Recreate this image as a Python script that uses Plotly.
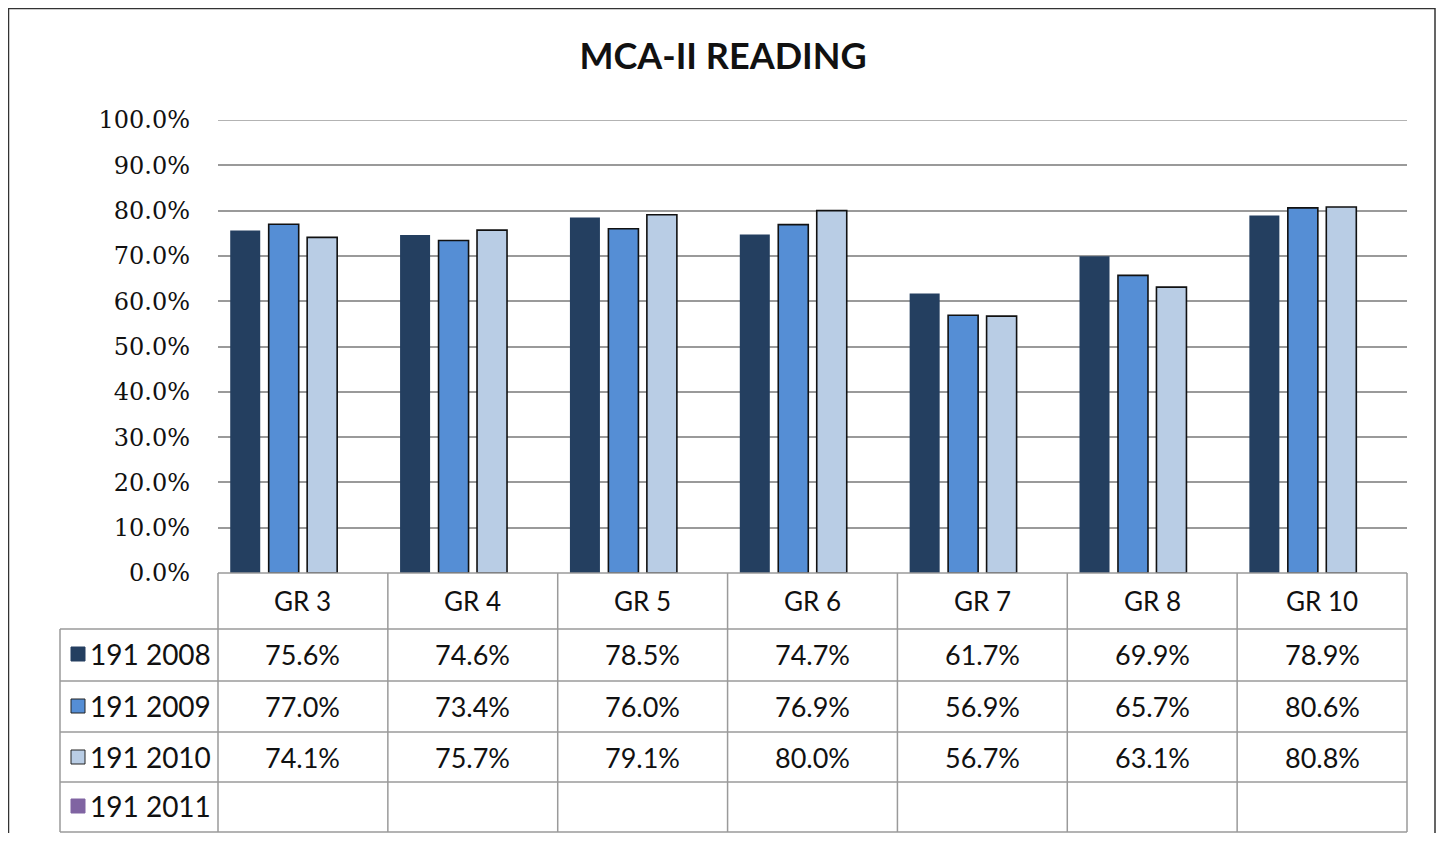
import plotly.graph_objects as go

categories = ["GR 3", "GR 4", "GR 5", "GR 6", "GR 7", "GR 8", "GR 10"]
series_names = ["191 2008", "191 2009", "191 2010", "191 2011"]
v2008 = [0.756, 0.746, 0.785, 0.747, 0.617, 0.699, 0.789]
v2009 = [0.770, 0.734, 0.760, 0.769, 0.569, 0.657, 0.806]
v2010 = [0.741, 0.757, 0.791, 0.800, 0.567, 0.631, 0.808]
v2011 = [None, None, None, None, None, None, None]
series_values = [v2008, v2009, v2010, v2011]
colors = ["#243F60", "#558ED5", "#B9CDE5", "#8064A2"]
outline = [0, 1.6, 1.6, 0]
y_ticks = [i / 10 for i in range(11)]

OFF = 8  # page body margin
W, H = 1444 - 2 * OFF, 841 - 2 * OFF
def px(x):
    return (x - OFF) / W
def py(y):
    return 1 - (y - OFF) / H

fig = go.Figure()
for name, vals, col, lw in zip(series_names, series_values, colors, outline):
    fig.add_trace(go.Bar(
        x=categories, y=vals, name=name,
        marker=dict(color=col, line=dict(color="#111111" if lw else col, width=lw)),
        showlegend=False,
    ))

x0, x1 = px(218), px(1407)
y0, y1 = py(573), py(120)

shapes = []
annotations = []
grid = "#9a9a9a"
# outer chart border
shapes.append(dict(type="rect", xref="paper", yref="paper", x0=px(8.5), x1=px(1435), y0=py(880), y1=py(8.5),
                   line=dict(color="#333333", width=1.5)))
# top gridline (axis maximum)
shapes.append(dict(type="line", xref="paper", yref="y", x0=x0, x1=x1, y0=max(y_ticks), y1=max(y_ticks),
                   line=dict(color=grid, width=1.5), layer="below"))
# table lines
row_y = [573, 629, 681, 732, 782, 832]
for i, yy in enumerate(row_y):
    left = 218 if i == 0 else 60
    shapes.append(dict(type="line", xref="paper", yref="paper", x0=px(left), x1=x1, y0=py(yy), y1=py(yy),
                       line=dict(color=grid, width=1.5)))
shapes.append(dict(type="line", xref="paper", yref="paper", x0=px(60), x1=px(60), y0=py(629), y1=py(832),
                   line=dict(color=grid, width=1.5)))
ncat = len(categories)
for k in range(ncat + 1):
    xx = 218 + k * (1407 - 218) / ncat
    shapes.append(dict(type="line", xref="paper", yref="paper", x0=px(xx), x1=px(xx), y0=py(573), y1=py(832),
                       line=dict(color=grid, width=1.5)))

font_tbl = "Lato, 'Open Sans', sans-serif"
# header labels
for c in categories:
    annotations.append(dict(x=c, y=py(601), xref="x", yref="paper", text=c, showarrow=False,
                            xanchor="center", yanchor="middle",
                            font=dict(family=font_tbl, size=26, color="#111111")))
row_centers = [654, 706, 757, 806]
for name, vals, col, yc in zip(series_names, series_values, colors, row_centers):
    shapes.append(dict(type="rect", xref="paper", yref="paper", x0=px(71), x1=px(85), y0=py(yc + 7), y1=py(yc - 7),
                       fillcolor=col, line=dict(color="#222222" if col in ("#558ED5", "#B9CDE5") else col, width=1)))
    annotations.append(dict(x=px(88), y=py(yc), xref="paper", yref="paper", text=name, showarrow=False,
                            xanchor="left", yanchor="middle",
                            font=dict(family=font_tbl, size=28, color="#111111")))
    for c, v in zip(categories, vals):
        if v is not None:
            annotations.append(dict(x=c, y=py(yc), xref="x", yref="paper", text=f"{v*100:.1f}%", showarrow=False,
                                    xanchor="center", yanchor="middle",
                                    font=dict(family=font_tbl, size=27, color="#111111")))

fig.update_layout(
    width=W, height=H,
    margin=dict(l=0, r=0, t=0, b=0, autoexpand=False),
    paper_bgcolor="white", plot_bgcolor="white",
    barmode="group", bargap=0.094, bargroupgap=0.22,
    title=dict(text="<b>MCA-II READING</b>", x=px(723), xanchor="center", y=py(56), yanchor="middle",
               font=dict(family=font_tbl, size=36, color="#111111")),
    xaxis=dict(domain=[x0, x1], showticklabels=False, showgrid=False, zeroline=False, showline=False,
               ticks="", automargin=False),
    yaxis=dict(domain=[y0, y1], range=[0, 1.0], tickvals=y_ticks, tickformat=".1%",
               showgrid=True, gridcolor=grid, gridwidth=1.5, zeroline=False, showline=False,
               ticks="", ticklabelstandoff=27, automargin=False,
               tickfont=dict(family="'DejaVu Serif', serif", size=24, color="#111111")),
    shapes=shapes, annotations=annotations,
)
fig.write_html("out.html")
